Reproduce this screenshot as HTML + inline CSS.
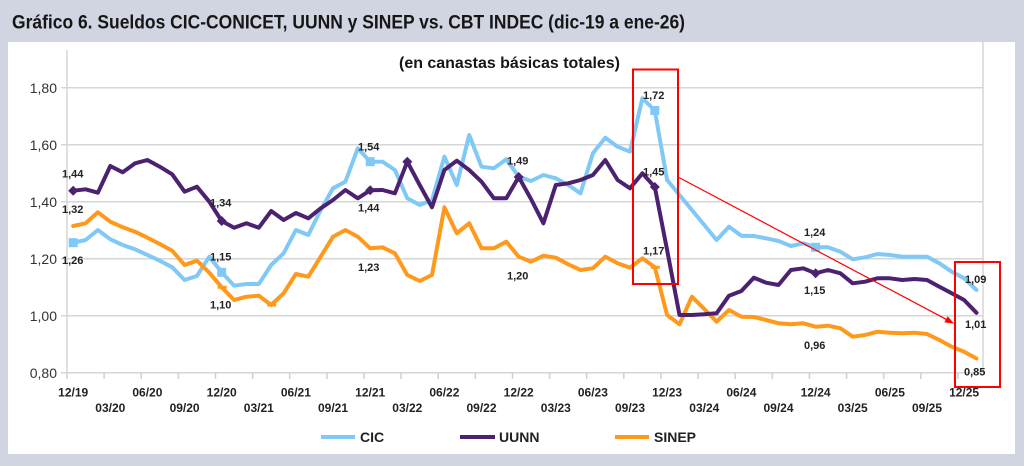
<!DOCTYPE html>
<html><head><meta charset="utf-8"><style>
html,body{margin:0;padding:0;background:#d0d5e1;}
svg{display:block;}
text{font-family:"Liberation Sans",Arial,sans-serif;}
</style></head><body>
<svg width="1024" height="466" viewBox="0 0 1024 466" xmlns="http://www.w3.org/2000/svg">
<rect x="0" y="0" width="1024" height="466" fill="#d0d5e1"/>
<text x="12" y="28.5" font-size="19" font-weight="bold" fill="#161616" textLength="673" lengthAdjust="spacingAndGlyphs">Gráfico 6. Sueldos CIC-CONICET, UUNN y SINEP vs. CBT INDEC (dic-19 a ene-26)</text>
<rect x="8" y="42" width="1007" height="412" fill="#ffffff"/>
<!-- gridlines -->
<g stroke="#d6d6d6" stroke-width="1.5">
<line x1="61" y1="87.7" x2="983" y2="87.7"/>
<line x1="61" y1="144.7" x2="983" y2="144.7"/>
<line x1="61" y1="201.7" x2="983" y2="201.7"/>
<line x1="61" y1="258.7" x2="983" y2="258.7"/>
<line x1="61" y1="315.7" x2="983" y2="315.7"/>
<line x1="61" y1="372.7" x2="983" y2="372.7"/>
<line x1="67" y1="50" x2="67" y2="373"/>
<line x1="983" y1="42" x2="983" y2="373"/>
</g>
<g stroke="#d0d0d0" stroke-width="1.5">
<line x1="67" y1="373" x2="67" y2="379"/><line x1="104.1" y1="373" x2="104.1" y2="379"/><line x1="141.2" y1="373" x2="141.2" y2="379"/><line x1="178.4" y1="373" x2="178.4" y2="379"/><line x1="215.5" y1="373" x2="215.5" y2="379"/><line x1="252.6" y1="373" x2="252.6" y2="379"/><line x1="289.7" y1="373" x2="289.7" y2="379"/><line x1="326.9" y1="373" x2="326.9" y2="379"/><line x1="364" y1="373" x2="364" y2="379"/><line x1="401.1" y1="373" x2="401.1" y2="379"/><line x1="438.2" y1="373" x2="438.2" y2="379"/><line x1="475.3" y1="373" x2="475.3" y2="379"/><line x1="512.5" y1="373" x2="512.5" y2="379"/><line x1="549.6" y1="373" x2="549.6" y2="379"/><line x1="586.7" y1="373" x2="586.7" y2="379"/><line x1="623.8" y1="373" x2="623.8" y2="379"/><line x1="661" y1="373" x2="661" y2="379"/><line x1="698.1" y1="373" x2="698.1" y2="379"/><line x1="735.2" y1="373" x2="735.2" y2="379"/><line x1="772.3" y1="373" x2="772.3" y2="379"/><line x1="809.4" y1="373" x2="809.4" y2="379"/><line x1="846.6" y1="373" x2="846.6" y2="379"/><line x1="883.7" y1="373" x2="883.7" y2="379"/><line x1="920.8" y1="373" x2="920.8" y2="379"/><line x1="957.9" y1="373" x2="957.9" y2="379"/>
</g>
<!-- y labels -->
<g font-size="14" fill="#333" text-anchor="end">
<text x="57" y="93">1,80</text>
<text x="57" y="150">1,60</text>
<text x="57" y="207">1,40</text>
<text x="57" y="264">1,20</text>
<text x="57" y="321">1,00</text>
<text x="57" y="378">0,80</text>
</g>
<!-- x labels -->
<g font-size="12" font-weight="bold" fill="#222" text-anchor="middle">
<text x="73.2" y="396.5">12/19</text><text x="110.3" y="412">03/20</text><text x="147.4" y="396.5">06/20</text><text x="184.6" y="412">09/20</text><text x="221.7" y="396.5">12/20</text><text x="258.8" y="412">03/21</text><text x="295.9" y="396.5">06/21</text><text x="333" y="412">09/21</text><text x="370.2" y="396.5">12/21</text><text x="407.3" y="412">03/22</text><text x="444.4" y="396.5">06/22</text><text x="481.5" y="412">09/22</text><text x="518.7" y="396.5">12/22</text><text x="555.8" y="412">03/23</text><text x="592.9" y="396.5">06/23</text><text x="630" y="412">09/23</text><text x="667.1" y="396.5">12/23</text><text x="704.3" y="412">03/24</text><text x="741.4" y="396.5">06/24</text><text x="778.5" y="412">09/24</text><text x="815.6" y="396.5">12/24</text><text x="852.7" y="412">03/25</text><text x="889.9" y="396.5">06/25</text><text x="927" y="412">09/25</text><text x="964.1" y="396.5">12/25</text>
</g>
<text x="399" y="68" font-size="16" font-weight="bold" fill="#161616" textLength="221" lengthAdjust="spacingAndGlyphs">(en canastas básicas totales)</text>
<!-- series -->
<g fill="none" stroke-width="4" stroke-linejoin="round" stroke-linecap="round">
<polyline stroke="#80c8f6" points="73.2,242.7 85.6,240 97.9,230 110.3,239.3 122.7,245 135.1,249.3 147.4,255 159.8,260.7 172.2,267.3 184.6,280 196.9,276 209.3,256.7 221.7,272.3 234.1,285.7 246.4,284 258.8,284 271.2,265 283.6,253.3 295.9,230 308.3,235 320.7,210 333,188.3 345.4,181.7 357.8,148.3 370.2,161.7 382.5,161.7 394.9,170 407.3,198.3 419.7,205 432,200 444.4,156.7 456.8,185 469.2,135 481.5,166.7 493.9,168.3 506.3,159.3 518.7,176.7 531,181 543.4,175 555.8,178.3 568.2,185 580.5,193.3 592.9,153.3 605.3,137.7 617.6,146.7 630,151.7 642.4,98.3 654.8,110.5 667.1,180 679.5,195 691.9,210 704.3,225 716.6,240 729,226.7 741.4,235.7 753.8,236 766.1,238.3 778.5,241 790.9,246 803.3,243.3 815.6,247.3 828,247.3 840.4,251.7 852.7,259.3 865.1,257.3 877.5,254 889.9,255 902.2,256.7 914.6,256.7 927,256.7 939.4,263.3 951.7,271.7 964.1,278.3 976.5,290"/>
<polyline stroke="#ff991c" points="73.2,226 85.6,223.3 97.9,212.3 110.3,221.7 122.7,227.3 135.1,231.7 147.4,237.7 159.8,244 172.2,250.7 184.6,265 196.9,260.7 209.3,272.7 221.7,287.3 234.1,300 246.4,296.7 258.8,295.7 271.2,305 283.6,293.3 295.9,274 308.3,276.7 320.7,256.7 333,236.7 345.4,230 357.8,236.7 370.2,248.3 382.5,247.3 394.9,253.3 407.3,275 419.7,281 432,275 444.4,207.3 456.8,233.3 469.2,223.3 481.5,248.3 493.9,248.3 506.3,241.7 518.7,256.7 531,261.7 543.4,255.7 555.8,257.7 568.2,264.3 580.5,270 592.9,268.3 605.3,256.7 617.6,263.3 630,267.7 642.4,258.3 654.8,267.3 667.1,315 679.5,324.3 691.9,296.7 704.3,309 716.6,321.7 729,310 741.4,316.7 753.8,317 766.1,320 778.5,323.3 790.9,324.3 803.3,323.3 815.6,326.7 828,325.7 840.4,328.3 852.7,336.7 865.1,335 877.5,331.7 889.9,332.7 902.2,333.3 914.6,332.7 927,334 939.4,340 951.7,346.7 964.1,351.7 976.5,358.5"/>
<polyline stroke="#4b2170" points="73.2,190.7 85.6,189.3 97.9,192.7 110.3,166 122.7,172.3 135.1,163.3 147.4,160 159.8,166.7 172.2,174.3 184.6,191.7 196.9,186.7 209.3,201.7 221.7,221 234.1,227.7 246.4,223.3 258.8,227.7 271.2,211 283.6,220 295.9,213 308.3,218.3 320.7,208.3 333,200 345.4,190 357.8,198.3 370.2,190.3 382.5,190 394.9,193.3 407.3,161.7 419.7,185 432,207.3 444.4,170 456.8,160.7 469.2,170 481.5,181.7 493.9,198.3 506.3,198.3 518.7,177 531,199 543.4,223.3 555.8,185 568.2,183.3 580.5,180 592.9,175 605.3,160 617.6,180 630,188.3 642.4,173.3 654.8,187 667.1,250 679.5,315 691.9,315 704.3,314.3 716.6,313.3 729,295.7 741.4,291 753.8,277.7 766.1,282.7 778.5,285 790.9,270 803.3,268.3 815.6,273.3 828,270 840.4,273.3 852.7,283.3 865.1,281.7 877.5,278.3 889.9,278.3 902.2,280 914.6,279 927,280 939.4,286.7 951.7,293.3 964.1,300 976.5,312.8"/>
</g>
<!-- markers -->
<g fill="#80c8f6">
<rect x="68.7" y="238.2" width="9" height="9"/>
<rect x="217.2" y="267.8" width="9" height="9"/>
<rect x="365.7" y="157.2" width="9" height="9"/>
<rect x="650.3" y="106" width="9" height="9"/>
<rect x="811.1" y="242.8" width="9" height="9"/>
</g>
<g fill="#ff991c">
<rect x="217.7" y="285.8" width="9" height="3"/>
<rect x="267.2" y="303.5" width="9" height="3"/>
<rect x="650.8" y="265.8" width="9" height="3"/>
</g>
<g fill="#4b2170">
<polygon points="73.2,185.7 78.2,190.7 73.2,195.7 68.2,190.7"/>
<polygon points="221.7,216 226.7,221 221.7,226 216.7,221"/>
<polygon points="370.2,185.3 375.2,190.3 370.2,195.3 365.2,190.3"/>
<polygon points="407.3,156.7 412.3,161.7 407.3,166.7 402.3,161.7"/>
<polygon points="518.7,172 523.7,177 518.7,182 513.7,177"/>
<polygon points="654.8,182 659.8,187 654.8,192 649.8,187"/>
<polygon points="815.6,268.3 820.6,273.3 815.6,278.3 810.6,273.3"/>
</g>
<!-- data labels -->
<g font-size="11" font-weight="bold" fill="#222">
<text x="62" y="177.5">1,44</text>
<text x="62" y="213">1,32</text>
<text x="62" y="264">1,26</text>
<text x="210" y="206.5">1,34</text>
<text x="210" y="260.5">1,15</text>
<text x="210" y="308.5">1,10</text>
<text x="358" y="150.5">1,54</text>
<text x="358" y="211.5">1,44</text>
<text x="358" y="271">1,23</text>
<text x="507" y="164.5">1,49</text>
<text x="507" y="279.5">1,20</text>
<text x="643" y="99">1,72</text>
<text x="643" y="175.5">1,45</text>
<text x="643" y="254.5">1,17</text>
<text x="804" y="236">1,24</text>
<text x="804" y="294">1,15</text>
<text x="804" y="349">0,96</text>
<text x="965" y="283">1,09</text>
<text x="965" y="328">1,01</text>
<text x="964" y="375.5">0,85</text>
</g>
<!-- annotations -->
<g stroke="#ff0000" fill="none">
<rect x="633" y="69.5" width="45" height="214.5" stroke-width="2"/>
<rect x="955" y="262" width="45" height="125" stroke-width="2"/>
<line x1="678" y1="177" x2="948" y2="320.3" stroke-width="1.2"/>
</g>
<polygon points="954,323.5 944.4,322.4 947.7,316.2" fill="#ff0000"/>
<!-- legend -->
<g stroke-width="4">
<line x1="321" y1="437" x2="355" y2="437" stroke="#80c8f6"/>
<line x1="460" y1="437" x2="495" y2="437" stroke="#4b2170"/>
<line x1="615" y1="437" x2="649" y2="437" stroke="#ff991c"/>
</g>
<g font-size="14" font-weight="bold" fill="#222">
<text x="360" y="442">CIC</text>
<text x="499" y="442">UUNN</text>
<text x="654" y="442">SINEP</text>
</g>
</svg>
</body></html>
